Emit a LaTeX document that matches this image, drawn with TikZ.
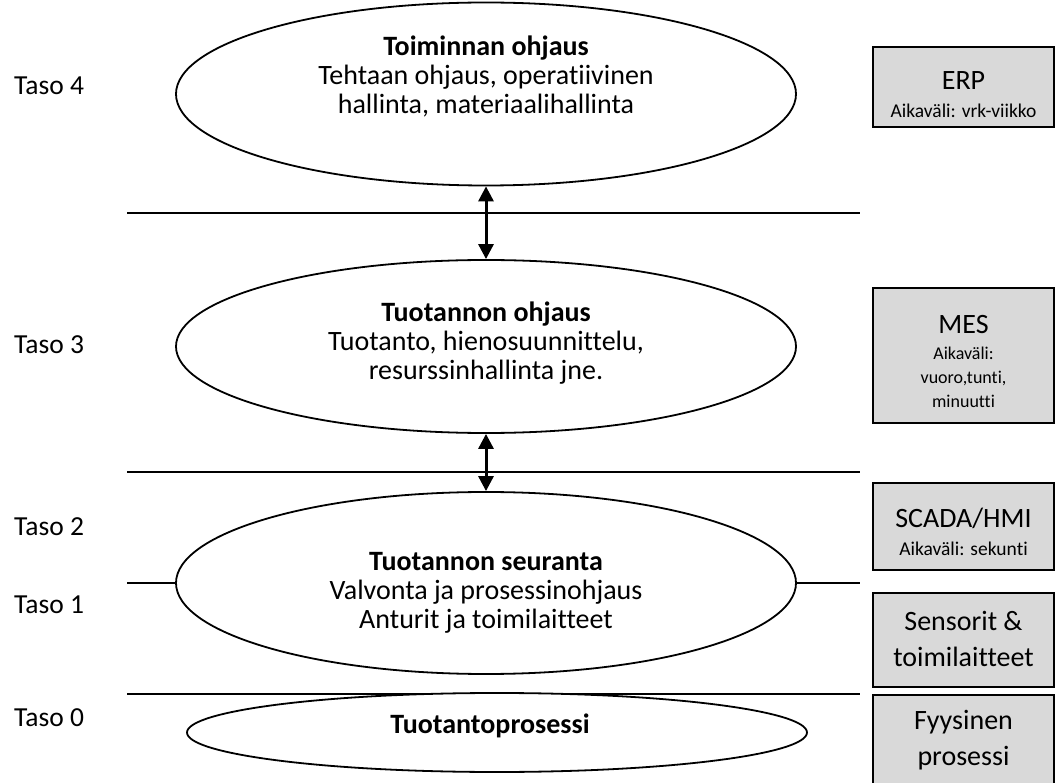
\documentclass[tikz,border=0pt]{standalone}
\usepackage{fontspec}
\setmainfont{Carlito}[Ligatures=CommonOff]
\usetikzlibrary{shapes.geometric,arrows.meta}
\definecolor{boxgray}{HTML}{D9D9D9}
\tikzset{
  lev/.style={ellipse,draw=black,line width=1.8pt,inner sep=0pt,fill=white},
  txt/.style={align=center,inner sep=0pt,font=\fontsize{28}{29}\selectfont},
  taso/.style={anchor=west,inner sep=0pt,font=\fontsize{27.5}{30}\selectfont},
  sysbox/.style={draw=black,line width=2pt,fill=boxgray,minimum width=181pt,inner sep=0pt},
  big/.style={align=center,inner sep=0pt,font=\fontsize{28}{36}\selectfont},
  small/.style={align=center,inner sep=0pt,font=\fontsize{18}{24}\selectfont},
  hline/.style={line width=1.3pt},
  arr/.style={line width=3pt,{Triangle[width=15pt,length=15pt]}-{Triangle[width=15pt,length=15pt]}}
}
\begin{document}
\begin{tikzpicture}[x=1pt,y=-1pt]
\useasboundingbox (0,0) rectangle (1058,783);
\clip (0,0) rectangle (1058,783);
% horizontal lines
\coordinate (l4a) at (127,213); \coordinate (l4b) at (860,213);
\coordinate (l3a) at (127,472); \coordinate (l3b) at (860,472);
\coordinate (l1a) at (127,694); \coordinate (l1b) at (860,694);
\coordinate (l2a) at (127,583); \coordinate (l2b) at (860,583);
\draw[hline] (l4a) -- (l4b);
\draw[hline] (l3a) -- (l3b);
\draw[hline] (l1a) -- (l1b);
% ellipses
\node[lev,minimum width=620pt,minimum height=183pt] (e1) at (486,94) {};
\node[lev,minimum width=620pt,minimum height=173pt] (e2) at (486,346.5) {};
\node[lev,minimum width=620pt,minimum height=182pt] (e3) at (486,583) {};
\node[lev,minimum width=620pt,minimum height=79pt] (e4) at (497,732.5) {};
\draw[hline] (l2a) -- (e3.west);
\draw[hline] (e3.east) -- (l2b);
% arrows
\draw[arr] (e1.south) -- (e2.north);
\draw[arr] (e2.south) -- (e3.north);
% ellipse texts
\node[txt] (t1) at (486,76) {\textbf{Toiminnan ohjaus}\\Tehtaan ohjaus, operatiivinen\\hallinta, materiaalihallinta};
\node[txt] (t2) at (486,343) {\textbf{Tuotannon ohjaus}\\Tuotanto, hienosuunnittelu,\\resurssinhallinta jne.};
\node[txt] (t3) at (486,593) {\textbf{Tuotannon seuranta}\\Valvonta ja prosessinohjaus\\Anturit ja toimilaitteet};
\node[txt] (t4) at (490,726) {\textbf{Tuotantoprosessi}};
% level labels
\node[taso] (s4) at (14,86) {Taso 4};
\node[taso] (s3) at (14,345) {Taso 3};
\node[taso] (s2) at (14,527) {Taso 2};
\node[taso] (s1) at (14,605) {Taso 1};
\node[taso] (s0) at (14,718) {Taso 0};
% system boxes
\node[sysbox,minimum height=80pt] (b4) at (963.5,87) {};
\node[big] at (963.5,81) {ERP};
\node[small,font=\fontsize{19.5}{24}\selectfont] at (963.5,111) {Aikaväli: vrk-viikko};
\node[sysbox,minimum height=135pt] (b3) at (963.5,355.5) {};
\node[big] at (963.5,325) {MES};
\node[small] at (963.5,377) {Aikaväli:\\vuoro,tunti,\\minuutti};
\node[sysbox,minimum height=87pt] (b2) at (963.5,526.5) {};
\node[big] at (963.5,518) {SCADA/HMI};
\node[small,font=\fontsize{19.5}{24}\selectfont] at (963.5,549) {Aikaväli: sekunti};
\node[sysbox,minimum height=94pt] (b1) at (963.5,640) {};
\node[big] at (963.5,639) {Sensorit \&\\toimilaitteet};
\node[sysbox,minimum height=100pt] (b0) at (963.5,745) {};
\node[big] at (963.5,740) {Fyysinen\\prosessi};
\end{tikzpicture}
\end{document}
